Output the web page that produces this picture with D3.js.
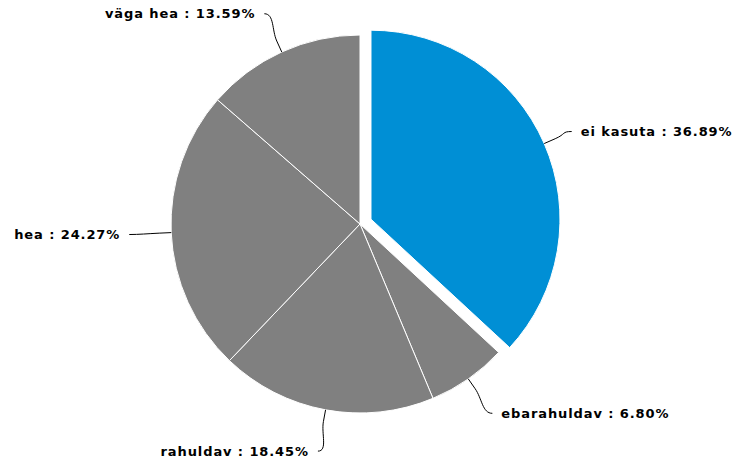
<!DOCTYPE html>
<html><head><meta charset="utf-8">
<script src="https://cdn.jsdelivr.net/npm/d3@7"></script>
<style>body{margin:0;background:#fff}svg{display:block}</style>
</head><body>
<svg id="c" width="743" height="459"></svg>
<script>
const categories = ["ei kasuta", "ebarahuldav", "rahuldav", "hea", "väga hea"];
const values = [36.89, 6.80, 18.45, 24.27, 13.59];
const sliced = [true, false, false, false, false];
const colors = ["#008fd5", "#808080", "#808080", "#808080", "#808080"];

const svg = d3.select("#c");
const cx = 360, cy = 224, r = 189, offset = 12, labelDist = 42;

const data = categories.map((c, i) => ({name: c, value: values[i], sliced: sliced[i], color: colors[i]}));
const pie = d3.pie().value(d => d.value).sort(null);
const arcs = pie(data);
const arc = d3.arc().innerRadius(0).outerRadius(r);

const g = svg.append("g").attr("transform", `translate(${cx},${cy})`);

arcs.forEach(a => {
  const mid = (a.startAngle + a.endAngle) / 2;
  const off = a.data.sliced ? offset : 0;
  a.dx = Math.sin(mid) * off; a.dy = -Math.cos(mid) * off; a.mid = mid;
});

g.selectAll("path.slice").data(arcs).join("path")
  .attr("class", "slice")
  .attr("d", arc)
  .attr("transform", d => `translate(${d.dx},${d.dy})`)
  .attr("fill", d => d.data.color)
  .attr("stroke", "#fff").attr("stroke-width", 1).attr("stroke-linejoin", "round");

// labels and connectors
arcs.forEach(a => {
  const s = Math.sin(a.mid), c = -Math.cos(a.mid);
  const right = s >= 0;
  const R2 = r + labelDist;
  const lx = s * R2, ly = c * R2;
  const ex = a.dx + s * r, ey = a.dy + c * r;
  const bx = a.dx + s * (r + 12), by = a.dy + c * (r + 12);
  const dir = right ? 1 : -1;
  const path = `M${lx},${ly} C${lx - dir * 10},${ly} ${2 * bx - ex},${2 * by - ey} ${bx},${by} L${ex},${ey}`;
  g.append("path").attr("d", path).attr("fill", "none").attr("stroke", "#000").attr("stroke-width", 1);
  g.append("text")
    .attr("x", lx + dir * 9).attr("y", ly)
    .attr("dy", "0.35em")
    .attr("text-anchor", right ? "start" : "end")
    .attr("font-family", "'DejaVu Sans', Verdana, sans-serif")
    .attr("font-weight", "bold").attr("font-size", 13)
    .attr("letter-spacing", 0.9)
    .attr("fill", "#000")
    .text(`${a.data.name} : ${a.data.value.toFixed(2)}%`);
});
</script>
</body></html>
